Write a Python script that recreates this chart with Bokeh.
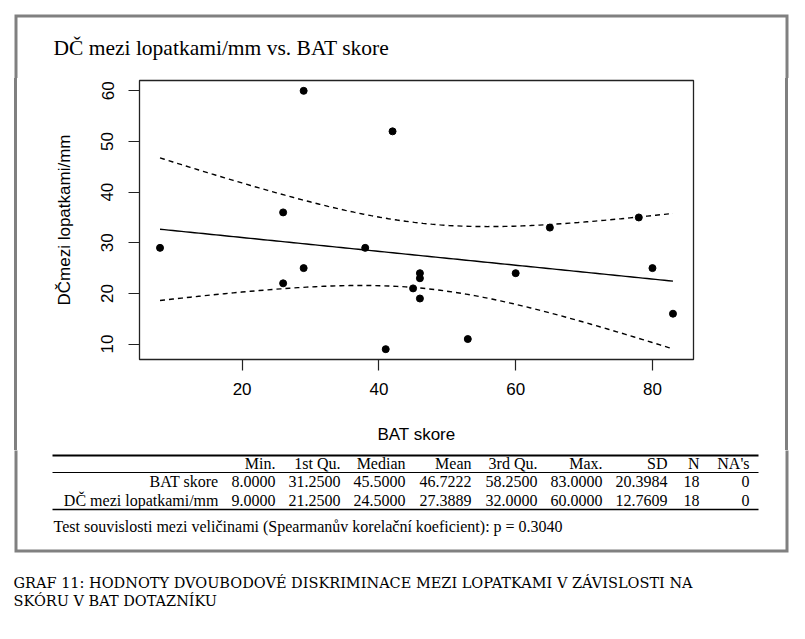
import numpy as np
from bokeh.plotting import figure
from bokeh.layouts import column, row
from bokeh.models import Range1d, FixedTicker, ColumnDataSource, Spacer
from bokeh.core.properties import value
from bokeh.embed import file_html
from bokeh.resources import INLINE

# ---- data ----
bat = [8, 26, 26, 29, 29, 38, 41, 42, 45, 46, 46, 46, 53, 60, 65, 78, 80, 83]
dc = [29, 36, 22, 60, 25, 29, 9, 52, 21, 24, 23, 19, 11, 24, 33, 35, 25, 16]
x_ticks = [20, 40, 60, 80]
y_ticks = [10, 20, 30, 40, 50, 60]
table_header = ["Min.", "1st Qu.", "Median", "Mean", "3rd Qu.", "Max.", "SD", "N", "NA's"]
row_names = ["BAT skore", "DČ mezi lopatkami/mm"]
na_counts = [0, 0]
p_value = "0.3040"
t_975_df16 = 2.119905  # Student t quantile, 16 df

title_text = "DČ mezi lopatkami/mm vs. BAT skore"
x_label = "BAT skore"
y_label = "DČmezi lopatkami/mm"
test_text = "Test souvislosti mezi veličinami (Spearmanův korelační koeficient): p = " + p_value
caption_lines = ["GRAF 11:  HODNOTY  DVOUBODOVÉ  DISKRIMINACE  MEZI  LOPATKAMI  V  ZÁVISLOSTI  NA",
                 "SKÓRU V BAT DOTAZNÍKU"]


def summary(v, na):
    a = np.asarray(v, float)
    q = np.percentile(a, [0, 25, 50, 75, 100])
    vals = [q[0], q[1], q[2], a.mean(), q[3], q[4], a.std(ddof=1)]
    return [f"{x:.4f}" for x in vals] + [str(len(a)), str(na)]


rows = [summary(bat, na_counts[0]), summary(dc, na_counts[1])]

# linear fit with 95% confidence band
xa = np.asarray(bat, float)
ya = np.asarray(dc, float)
n = len(xa)
b1, b0 = np.polyfit(xa, ya, 1)
resid = ya - (b0 + b1 * xa)
s = np.sqrt((resid ** 2).sum() / (n - 2))
sxx = ((xa - xa.mean()) ** 2).sum()
xs = np.linspace(xa.min(), xa.max(), 120)
fit = b0 + b1 * xs
hw = t_975_df16 * s * np.sqrt(1.0 / n + (xs - xa.mean()) ** 2 / sxx)

# ---- page geometry (px) ----
W = 797
Y_TOP_END = 78      # end of top strip
Y_MID_END = 450     # end of plot row
H_TOTAL = 631
H_MID = Y_MID_END - Y_TOP_END
BOX_COLOR = "#808080"
BOX_W = 3
BOX_L, BOX_R, BOX_T, BOX_B = 15.5, 786.5, 15.5, 550.5
X_PLOT0, X_PLOT1 = 20, 782
SERIF = "Liberation Serif"


def canvas_fig(x0, x1, y0, y1):
    f = figure(width=x1 - x0, height=y1 - y0, output_backend="svg", toolbar_location=None,
               x_range=Range1d(x0, x1), y_range=Range1d(y1, y0),
               x_axis_type=None, y_axis_type=None, title=None,
               min_border=0, min_border_left=0, min_border_right=0,
               min_border_top=0, min_border_bottom=0)
    f.outline_line_color = None
    f.background_fill_color = "white"
    f.border_fill_color = "white"
    return f


def add_text(f, xs_, ys_, texts, align="left", size="16px", font=SERIF):
    src = ColumnDataSource(dict(x=xs_, y=ys_, t=texts))
    f.text(x="x", y="y", text="t", source=src, text_font=value(font), text_font_size=size,
           text_align=align, text_baseline="middle", text_color="black")


# ---- top strip: box top + title ----
top = canvas_fig(0, W, 0, Y_TOP_END)
top.line([BOX_L, BOX_L, BOX_R, BOX_R], [Y_TOP_END + 5, BOX_T, BOX_T, Y_TOP_END + 5],
         line_color=BOX_COLOR, line_width=BOX_W, line_join="miter")
add_text(top, [53], [47], [title_text], size="21.5px")

# ---- scatter plot ----
FL, FR, FT, FB = 139, 693, 80, 359
p = figure(width=X_PLOT1 - X_PLOT0, height=H_MID, output_backend="svg",
           toolbar_location=None, title=None,
           x_range=Range1d(5, 86), y_range=Range1d(6.96, 62.04),
           min_border_left=FL - X_PLOT0, min_border_right=X_PLOT1 - FR,
           min_border_top=FT - Y_TOP_END, min_border_bottom=Y_MID_END - FB)
p.background_fill_color = "white"
p.border_fill_color = "white"
p.grid.visible = False
p.outline_line_color = "#222222"
p.outline_line_width = 1.3

for ax in (p.xaxis[0], p.yaxis[0]):
    ax.axis_line_color = None
    ax.minor_tick_line_color = None
    ax.major_tick_in = 0
    ax.major_tick_out = 11
    ax.major_tick_line_color = "#222222"
    ax.major_tick_line_width = 1.2
    ax.major_label_text_font = "Liberation Sans"
    ax.major_label_text_font_size = "17px"
    ax.major_label_text_color = "black"
    ax.axis_label_text_font = "Liberation Sans"
    ax.axis_label_text_font_size = "17px"
    ax.axis_label_text_font_style = "normal"
    ax.axis_label_text_color = "black"

p.xaxis.ticker = FixedTicker(ticks=x_ticks)
p.yaxis.ticker = FixedTicker(ticks=y_ticks)
p.xaxis.axis_label = x_label
p.yaxis.axis_label = y_label
p.xaxis.major_label_standoff = 12
p.xaxis.axis_label_standoff = 27
p.yaxis.major_label_orientation = "vertical"
p.yaxis.major_label_standoff = 15
p.yaxis.axis_label_standoff = 25

p.line(xs, fit, line_color="black", line_width=1.4)
p.line(xs, fit + hw, line_color="black", line_width=1.4, line_dash="5 4")
p.line(xs, fit - hw, line_color="black", line_width=1.4, line_dash="5 4")
p.scatter(bat, dc, size=7, marker="circle", fill_color="black", line_color="black")

# box sides beside the plot (plain coloured spacers)
gray = {"background-color": BOX_COLOR}
mid = row(Spacer(width=14, height=H_MID), Spacer(width=3, height=H_MID, styles=gray),
          Spacer(width=3, height=H_MID), p,
          Spacer(width=3, height=H_MID), Spacer(width=3, height=H_MID, styles=gray),
          Spacer(width=W - 788, height=H_MID), spacing=0)

# ---- bottom strip: table, test note, box bottom, caption ----
bot = canvas_fig(0, W, Y_MID_END, H_TOTAL)
bot.line([BOX_L, BOX_L, BOX_R, BOX_R], [Y_MID_END - 5, BOX_B, BOX_B, Y_MID_END - 5],
         line_color=BOX_COLOR, line_width=BOX_W, line_join="miter")
T_X0, T_X1 = 52, 758
bot.segment(x0=[T_X0] * 3, x1=[T_X1] * 3, y0=[455, 472, 509], y1=[455, 472, 509],
            line_color="black", line_width=[2.0, 1.0, 1.6])

col_right = [275, 340, 405, 471, 537, 602, 667, 699, 749]
add_text(bot, col_right, [463] * len(col_right), table_header, align="right")
row_y = [481, 500]
add_text(bot, [218, 218], row_y, row_names, align="right")
cx, cy, ct = [], [], []
for Y, vals in zip(row_y, rows):
    for X, v in zip(col_right, vals):
        cx.append(X)
        cy.append(Y)
        ct.append(v)
add_text(bot, cx, cy, ct, align="right")
add_text(bot, [53], [526], [test_text])
add_text(bot, [13, 13], [582, 600], caption_lines, size="14.5px", font="DejaVu Serif")

layout = column(top, mid, bot, spacing=0)
open("out.html", "w").write(file_html(layout, INLINE))
